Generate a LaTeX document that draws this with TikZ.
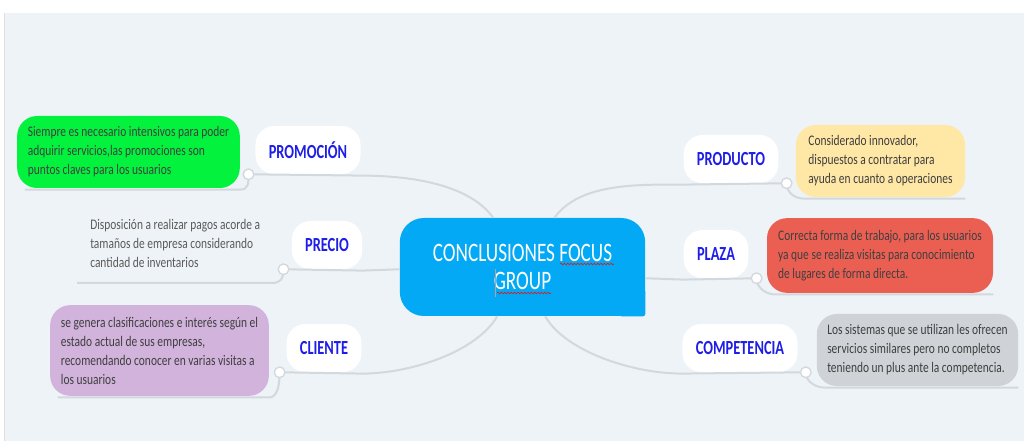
\documentclass[tikz,border=0pt]{standalone}
\usepackage{fontspec}
\setmainfont{Carlito}
\newfontfamily\condfont[FakeStretch=0.78]{Carlito}
\newfontfamily\topicfont[FakeStretch=0.72]{Carlito}
\newfontfamily\titlefont[FakeStretch=0.72]{Carlito}
\usetikzlibrary{decorations.pathmorphing}
\definecolor{pagebg}{HTML}{EEF3F7}
\definecolor{centralblue}{HTML}{03A9F5}
\definecolor{topicblue}{HTML}{1E1EE6}
\definecolor{linegray}{HTML}{D3D8DC}
\definecolor{detailtext}{HTML}{3F3F3F}
\definecolor{precgray}{HTML}{5A5A5A}
\definecolor{boxgreen}{HTML}{02F23E}
\definecolor{boxpurple}{HTML}{D1B3DB}
\definecolor{boxyellow}{HTML}{FFE7A6}
\definecolor{boxred}{HTML}{EB5F53}
\definecolor{boxgray}{HTML}{CFD3D7}
\definecolor{spellred}{HTML}{D62020}
\tikzset{
  central/.style={fill=centralblue, text=white, rounded corners=18pt, minimum width=184pt, minimum height=73.5pt, align=center, font=\titlefont\fontsize{20}{21}\selectfont},
  topic/.style={fill=white, rounded corners=14pt, minimum height=36pt, inner xsep=10pt, text=topicblue, font=\topicfont\bfseries\fontsize{15}{18}\selectfont},
  detail/.style={rounded corners=15pt, inner xsep=2pt, align=left, text=detailtext, font=\condfont\fontsize{11}{14.25}\selectfont},
  branch/.style={draw=linegray, line width=1.5pt},
  dot/.style={circle, draw=linegray, fill=white, line width=1pt, inner sep=0pt, minimum size=8pt},
  spell/.style={draw=spellred, line width=0.5pt, decorate, decoration={snake, amplitude=0.6pt, segment length=2.5pt}},
}

\begin{document}
\begin{tikzpicture}[x=0.75pt,y=-0.75pt]
\useasboundingbox (0,0) rectangle (1024,441);
\fill[white] (0,0) rectangle (1024,441);
\fill[pagebg] (4,13) rectangle (1024,441);
\draw[gray!25] (4,13) -- (4,441);

% central topic
\node[central] (c) at (522.5,267) {CONCLUSIONES FOCUS\\GROUP};
\fill[centralblue, rounded corners=2pt] ([shift={(-20pt,20pt)}]c.south east) rectangle (c.south east);
\draw[spell] ([shift={(37.5,-3)}]c.center) -- ([shift={(91.5,-3)}]c.center);
\draw[spell] ([shift={(-25.5,26)}]c.center) -- ([shift={(28.5,26)}]c.center);
\draw[gray!70, line width=0.5pt] ([shift={(-27.5,2)}]c.center) -- ([shift={(-27.5,30)}]c.center);

% left branches
\node[topic] (prom) at (308,150) {PROMOCIÓN};
\node[topic] (prec) at (327,245) {PRECIO};
\node[topic] (cli) at (324,348) {CLIENTE};
% right branches
\node[topic] (prod) at (731,159) {PRODUCTO};
\node[topic] (plz) at (716,254) {PLAZA};
\node[topic] (comp) at (740,348) {COMPETENCIA};

% notes
\node[detail, fill=boxgreen, minimum width=167pt, minimum height=54pt] (gre) at (128.5,152) {Siempre es necesario intensivos para poder\\adquirir servicios,las promociones son\\puntos claves para los usuarios};
\node[detail, text=precgray, anchor=north west, inner xsep=1.5pt, inner ysep=0pt] (prectx) at (88,219) {Disposición a realizar pagos acorde a\\tamaños de empresa considerando\\cantidad de inventarios};
\node[detail, fill=boxpurple, minimum width=164pt, minimum height=68pt] (pur) at (159.5,350.5) {se genera clasificaciones e interés según el\\estado actual de sus empresas,\\recomendando conocer en varias visitas a\\los usuarios};
\node[detail, fill=boxyellow, minimum width=127pt, minimum height=54pt] (yel) at (880.5,161) {Considerado innovador,\\dispuestos a contratar para\\ayuda en cuanto a operaciones};
\node[detail, fill=boxred, minimum width=169.5pt, minimum height=56pt] (red) at (880,255.5) {Correcta forma de trabajo, para los usuarios\\ya que se realiza visitas para conocimiento\\de lugares de forma directa.};
\node[detail, fill=boxgray, minimum width=151pt, minimum height=54pt] (gry) at (917.5,350) {Los sistemas que se utilizan les ofrecen\\servicios similares pero no completos\\teniendo un plus ante la competencia.};

\coordinate (promdot) at ([xshift=-5pt]prom.south west);
\coordinate (precdot) at ([xshift=-6pt]prec.south west);
\coordinate (clidot) at ([xshift=-5pt]cli.south west);
\coordinate (proddot) at ([xshift=6pt]prod.south east);
\coordinate (plzdot) at ([xshift=6pt]plz.south east);
\coordinate (compdot) at ([xshift=6pt]comp.south east);
\coordinate (precturn) at (272,283);
\coordinate (precend) at (77,283);

% branch lines
\draw[branch] ([xshift=-22pt]c.north) .. controls +(-25,-35) and +(45,0) .. ([yshift=-1pt]prom.south east) -- (promdot);
\draw[branch] (prec.south -| c.west) -- ([yshift=-1pt]prec.south east) -- (precdot);
\draw[branch] ([xshift=-19pt]c.south) .. controls +(-20,35) and +(50,0) .. ([yshift=-1pt]cli.south east) -- (clidot);
\draw[branch] ([xshift=24pt]c.north) .. controls +(25,-35) and +(-45,0) .. ([yshift=-1pt]prod.south west) -- (proddot);
\draw[branch] (plz.south -| c.east) -- ([yshift=-1pt]plz.south west) -- (plzdot);
\draw[branch] ([xshift=17pt]c.south) .. controls +(20,35) and +(-50,0) .. ([yshift=-1pt]comp.south west) -- (compdot);

% note lines
\draw[branch] (promdot) .. controls +(0,10) and +(8,0) .. ([yshift=-1pt]gre.south east) -- ([yshift=-1pt,xshift=6pt]gre.south west);
\draw[branch] (precdot) .. controls +(0,10) and +(8,0) .. (precturn) -- (precend);
\draw[branch] (clidot) .. controls +(0,14) and +(8,0) .. ([yshift=-1pt]pur.south east) -- ([yshift=-1pt,xshift=6pt]pur.south west);
\draw[branch] (proddot) .. controls +(0,10) and +(-8,0) .. ([yshift=-1pt,xshift=6pt]yel.south west) -- ([yshift=-1pt]yel.south east);
\draw[branch] (plzdot) .. controls +(0,10) and +(-8,0) .. ([yshift=-1pt,xshift=6pt]red.south west) -- ([yshift=-1pt]red.south east);
\draw[branch] (compdot) .. controls +(0,10) and +(-8,0) .. ([yshift=-1pt,xshift=6pt]gry.south west) -- ([yshift=-1pt]gry.south east);

\node[dot] (promring) at (promdot) {};
\node[dot] (precring) at (precdot) {};
\node[dot] (cliring) at (clidot) {};
\node[dot] (prodring) at (proddot) {};
\node[dot] (plzring) at (plzdot) {};
\node[dot] (compring) at (compdot) {};
\end{tikzpicture}
\end{document}
